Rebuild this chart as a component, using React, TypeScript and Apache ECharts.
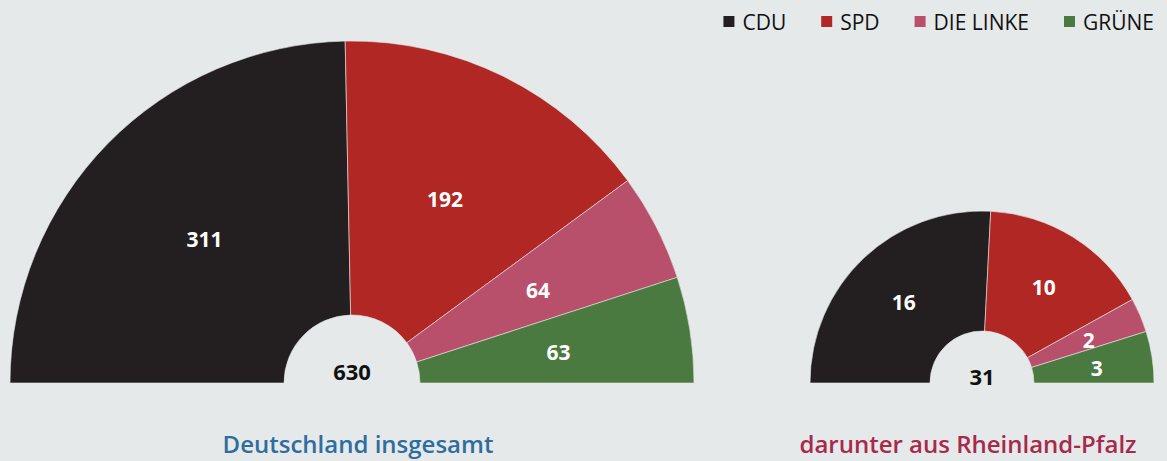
import React, { useEffect, useRef } from "react";
import * as echarts from "echarts";

const parties = ["CDU", "SPD", "DIE LINKE", "GRÜNE"];
const colors = ["#231f20", "#b02724", "#b84f6b", "#4a7a3f"];
const germanySeats = [311, 192, 64, 63];
const rlpSeats = [16, 10, 2, 3];
const titles = ["Deutschland insgesamt", "darunter aus Rheinland-Pfalz"];
const titleColors = ["#2e6d9e", "#a8294a"];

const BG = "#e5e9ea";
const FONT = "'Open Sans', 'Noto Sans', sans-serif";

function buildData(values: number[]) {
  const total = values.reduce((a, b) => a + b, 0);
  const data: any[] = values.map((v, i) => ({
    value: v,
    name: parties[i],
    itemStyle: { color: colors[i] },
  }));
  data.push({
    value: total,
    name: "__rest",
    itemStyle: { color: "none", borderWidth: 0 },
    label: { show: false },
    labelLine: { show: false },
    emphasis: { disabled: true },
    tooltip: { show: false },
  });
  return { data, total };
}

export default function App() {
  const ref = useRef<HTMLDivElement>(null);
  useEffect(() => {
    if (!ref.current) return;
    const chart = echarts.init(ref.current, null, { renderer: "svg" });
    const g = buildData(germanySeats);
    const r = buildData(rlpSeats);
    const pieBase = {
      type: "pie",
      startAngle: 180,
      clockwise: true,
      silent: true,
      itemStyle: { borderColor: BG, borderWidth: 0.6 },
      label: {
        show: true,
        position: "inner",
        formatter: "{c}",
        color: "#ffffff",
        fontSize: 21,
        fontWeight: "bold",
        fontFamily: FONT,
        offset: [1, 2],
      },
      labelLine: { show: false },
      emphasis: { disabled: true },
    };
    const centerText = (x: number, y: number, text: string) => ({
      type: "text",
      x,
      y,
      style: {
        text,
        fill: "#111",
        font: `bold 22px ${FONT}`,
        textAlign: "center",
        textVerticalAlign: "middle",
      },
    });
    const titleText = (x: number, text: string, fill: string) => ({
      type: "text",
      x,
      y: 443,
      style: {
        text,
        fill,
        font: `600 24px ${FONT}`,
        textAlign: "center",
        textVerticalAlign: "middle",
      },
    });
    chart.setOption({
      animation: false,
      backgroundColor: BG,
      legend: {
        data: parties,
        right: 8,
        top: 6,
        itemWidth: 13,
        itemHeight: 13,
        itemGap: 33,
        icon: "rect",
        selectedMode: false,
        textStyle: {
          fontSize: 21,
          color: "#111111",
          fontFamily: FONT,
          padding: [0, 0, 0, 2],
        },
      },
      graphic: [
        centerText(352, 371, String(g.total)),
        centerText(982, 376, String(r.total)),
        titleText(358, titles[0], titleColors[0]),
        titleText(968, titles[1], titleColors[1]),
      ],
      series: [
        { ...pieBase, name: "Deutschland", center: [352, 383], radius: [68, 342], data: g.data },
        { ...pieBase, name: "Rheinland-Pfalz", center: [982, 383], radius: [52, 172], data: r.data },
      ],
    });
    return () => chart.dispose();
  }, []);
  return (
    <div
      ref={ref}
      style={{ position: "fixed", left: 0, top: 0, width: 1167, height: 461 }}
    />
  );
}
